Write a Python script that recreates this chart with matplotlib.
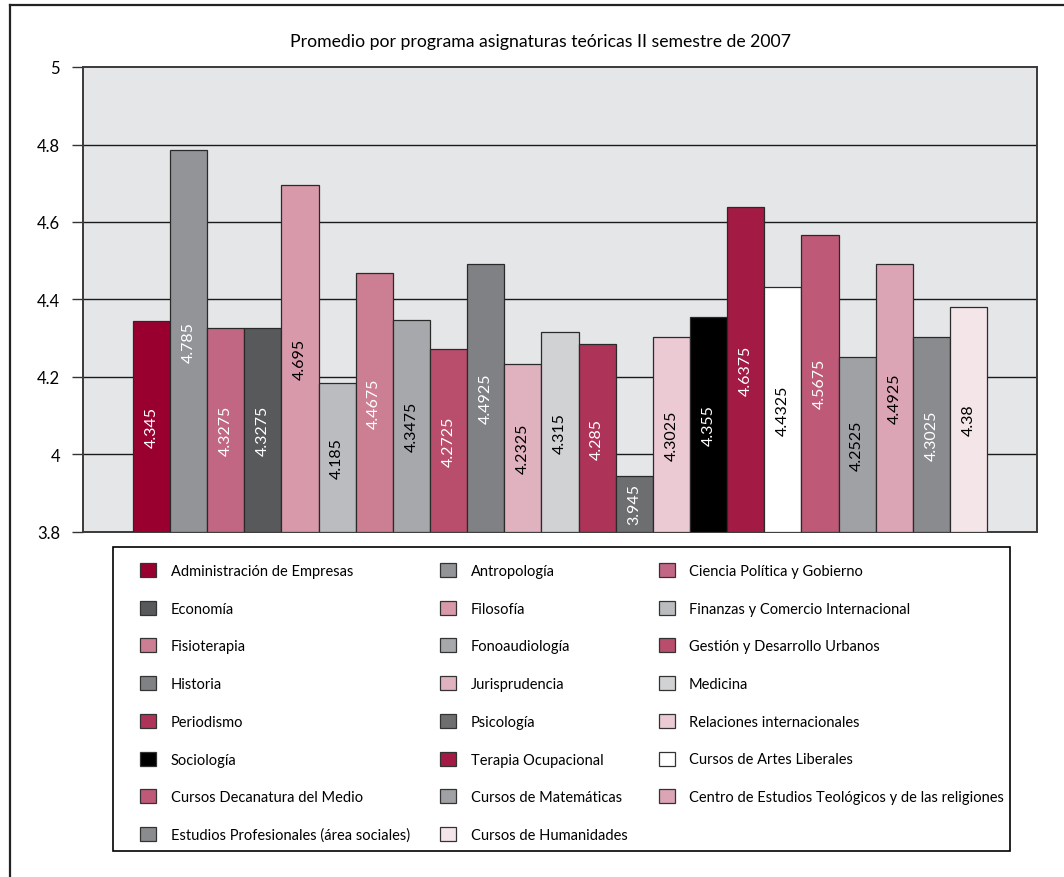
import matplotlib
matplotlib.use("Agg")
import matplotlib.pyplot as plt
from matplotlib.patches import Patch, Rectangle
from matplotlib.lines import Line2D

plt.rcParams['font.family'] = ['Lato', 'DejaVu Sans']

title = "Promedio por programa asignaturas teóricas II semestre de 2007"

programs = [
    "Administración de Empresas", "Antropología", "Ciencia Política y Gobierno",
    "Economía", "Filosofía", "Finanzas y Comercio Internacional",
    "Fisioterapia", "Fonoaudiología", "Gestión y Desarrollo Urbanos",
    "Historia", "Jurisprudencia", "Medicina",
    "Periodismo", "Psicología", "Relaciones internacionales",
    "Sociología", "Terapia Ocupacional", "Cursos de Artes Liberales",
    "Cursos Decanatura del Medio", "Cursos de Matemáticas",
    "Centro de Estudios Teológicos y de las religiones",
    "Estudios Profesionales (área sociales)", "Cursos de Humanidades",
]
values = [4.345, 4.785, 4.3275, 4.3275, 4.695, 4.185, 4.4675, 4.3475, 4.2725,
          4.4925, 4.2325, 4.315, 4.285, 3.945, 4.3025, 4.355, 4.6375, 4.4325,
          4.5675, 4.2525, 4.4925, 4.3025, 4.38]
colors = ["#990030", "#939498", "#C26783", "#58595B", "#D899AB", "#BBBCC0",
          "#CC7F93", "#A7A8AC", "#B84E6C", "#808184", "#E0B1BF", "#D1D2D4",
          "#AE3358", "#6D6E70", "#EBCAD4", "#000000", "#A31A45", "#FFFFFF",
          "#BE5A77", "#A0A1A5", "#DBA5B5", "#8A8B8E", "#F4E5E9"]
label_colors = ["white", "white", "white", "white", "black", "black", "white",
                "black", "white", "white", "black", "black", "white", "white",
                "black", "white", "white", "black", "white", "black", "black",
                "white", "black"]
yticks = [3.8, 4.0, 4.2, 4.4, 4.6, 4.8, 5.0]
ytick_labels = ["3.8", "4", "4.2", "4.4", "4.6", "4.8", "5"]
ymin, ymax = 3.8, 5.0

W, H = 1064, 878
fig = plt.figure(figsize=(W / 100, H / 100), dpi=100)
fig.patch.set_facecolor("white")

ax = fig.add_axes([83 / W, 1 - 533 / H, (1037 - 83) / W, (533 - 68) / H])
ax.set_facecolor("#E5E6E8")

n = len(values)
xs = list(range(n))
ax.bar(xs, [v - ymin for v in values], bottom=ymin, width=1.0, color=colors,
       edgecolor="#2a2a2a", linewidth=0.9, zorder=3)

for x, v, c in zip(xs, values, label_colors):
    ax.text(x, (v + ymin) / 2, f"{v:g}", rotation=90, ha="center", va="center",
            color=c, fontsize=11.5, zorder=4)

for yv in yticks[1:-1]:
    ax.axhline(yv, color="#1a1a1a", linewidth=1.0, zorder=1)

pad = 1.34
ax.set_xlim(-0.5 - pad, n - 0.5 + pad)
ax.set_ylim(ymin, ymax)
ax.set_xticks([])
ax.set_yticks(yticks)
ax.set_yticklabels(ytick_labels, fontsize=12)
ax.tick_params(axis="y", length=8, width=1.0, color="#333333", pad=8.5)
for side in ["left", "right", "top", "bottom"]:
    ax.spines[side].set_color("#3a3a3a")
    ax.spines[side].set_linewidth(1.4)

fig.text(541 / W, 1 - 42 / H, title, ha="center", va="center", fontsize=12.7)

# Legend, row-major order across 3 columns
handles = [Patch(facecolor=c, edgecolor="#333333", linewidth=0.9) for c in colors]
order = [i for col in range(3) for i in range(col, n, 3)]
leg = fig.legend([handles[i] for i in order], [programs[i] for i in order],
                 ncol=3, loc="upper left",
                 bbox_to_anchor=(140 / W, 1 - 564 / H, (1004 - 140) / W, 0.0),
                 mode="expand", fontsize=10.5, frameon=False,
                 handlelength=1.1, handleheight=1.1,
                 handletextpad=1.0, labelspacing=1.56, borderpad=0.0,
                 borderaxespad=0.0, columnspacing=2.0)

# Legend frame
fig.add_artist(Rectangle((113 / W, 1 - 852 / H), (1010 - 113) / W, (852 - 548) / H,
                         facecolor="none", edgecolor="black", linewidth=1.2,
                         transform=fig.transFigure, zorder=0))

# Outer frame (top and left edges)
fig.add_artist(Line2D([10 / W, 1.0], [1 - 6 / H, 1 - 6 / H], color="#222222",
                      linewidth=1.6, transform=fig.transFigure))
fig.add_artist(Line2D([10 / W, 10 / W], [0.0, 1 - 6 / H], color="#222222",
                      linewidth=1.6, transform=fig.transFigure))

fig.savefig("out.png", dpi=100)
